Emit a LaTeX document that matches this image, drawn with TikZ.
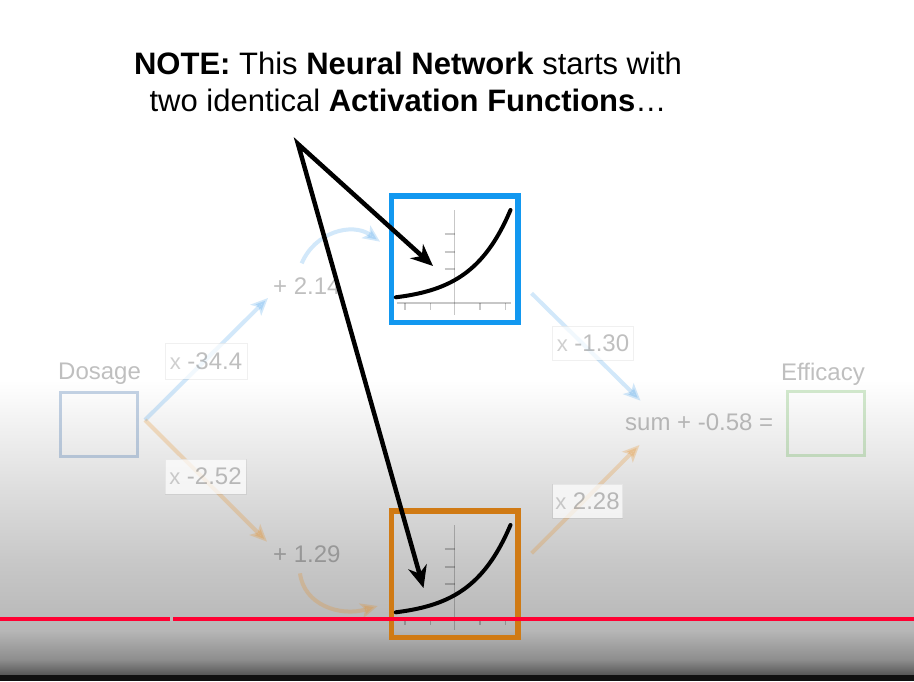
\documentclass[tikz,border=0pt]{standalone}
\usepackage{fontspec}
\setmainfont{Liberation Sans}
\usetikzlibrary{arrows.meta}
\definecolor{hblue}{RGB}{18,152,240}
\definecolor{horange}{RGB}{208,122,20}
\definecolor{fblue}{RGB}{30,140,230}
\definecolor{forange}{RGB}{230,140,30}
\definecolor{dosblue}{RGB}{60,110,170}
\definecolor{effgreen}{RGB}{80,170,60}
\definecolor{bgA}{RGB}{200,200,200}
\definecolor{bgB}{RGB}{183,183,183}
\definecolor{bgC}{RGB}{140,140,140}
\definecolor{bgD}{RGB}{85,85,85}
\definecolor{barblack}{RGB}{17,17,17}
\definecolor{ytred}{RGB}{255,0,50}
\newcommand{\smx}{{\fontsize{22}{24}\selectfont\color{black!75}x}}
\tikzset{
  notefont/.style={font=\fontsize{31}{37}\selectfont, inner sep=0},
  fadetext/.style={text=black, text opacity=0.25, font=\fontsize{24}{28}\selectfont, inner sep=0},
  wlabel/.style={draw=black, draw opacity=0.06, fill=white, fill opacity=0.7, text=black, text opacity=0.25,
    font=\fontsize{24}{28}\selectfont, inner sep=1, line width=1},
  fbluearrow/.style={draw=fblue, opacity=0.2, line width=4, -{Stealth[length=17,width=15,inset=4]}},
  forangearrow/.style={draw=forange, opacity=0.25, line width=4, -{Stealth[length=17,width=15,inset=4]}},
  inbox/.style={draw=black, opacity=0.3, line width=3},
  actbox/.style={line width=5.5, minimum size=126.5, inner sep=0},
  axisline/.style={draw=black, opacity=0.22, line width=1.6},
  actcurve/.style={draw=black, line width=4, line cap=round},
  notearrow/.style={draw=black, line width=4.5, line join=miter, {Stealth[length=22,width=19,inset=7]}-{Stealth[length=22,width=19,inset=7]}},
  actfun/.pic={
    \draw[axisline] (0,-49) -- (0,56);
    \draw[axisline] (-58,44) -- (56,44);
    \foreach \ty in {-25,-7,10} \draw[axisline] (-10,\ty) -- (0,\ty);
    \foreach \tx in {-49.5,-24,25.5,51} \draw[axisline] (\tx,44) -- (\tx,51);
    \draw[actcurve] plot[domain=0:114.7, samples=50, smooth] ({-58.7+\x},{38.3-4.87*(exp(\x/39)-1)});
  }
}
\begin{document}
\begin{tikzpicture}[x=1pt,y=-1pt]
\useasboundingbox (0,0) rectangle (914,681);
% background (video gradient)
\fill[white] (0,0) rectangle (914,381);
\shade[top color=white,bottom color=bgA] (0,380) rectangle (914,560.5);
\shade[top color=bgA,bottom color=bgB] (0,560) rectangle (914,630.5);
\shade[top color=bgB,bottom color=bgC] (0,630) rectangle (914,660.5);
\shade[top color=bgC,bottom color=bgD] (0,660) rectangle (914,675.5);
\fill[barblack] (0,675) rectangle (914,681);

% faded network
\node[inbox, draw=dosblue, minimum width=77, minimum height=64, inner sep=0] (dos) at (99,424.5) {};
\node[inbox, draw=effgreen, opacity=0.25, minimum width=77, minimum height=64, inner sep=0] (eff) at (826,423.5) {};
\node[fadetext, anchor=base west] (dostxt) at (58,379) {Dosage};
\node[fadetext, anchor=base west] (efftxt) at (781,380) {Efficacy};
\node[fadetext, anchor=base west] (sumtxt) at (625,430) {sum + -0.58 =};
\node[fadetext, anchor=base west] (b1txt) at (273,294) {+ 2.14};
\node[fadetext, anchor=base west] (b2txt) at (273,562) {+ 1.29};

\coordinate (fork) at (145,420);
\coordinate (b1end) at (268,298);
\coordinate (c1start) at (301.7,263.3);
\coordinate (c1end) at (380,241.7);
\coordinate (o1start) at (531.6,293.3);
\coordinate (o1end) at (640.5,400.7);
\coordinate (b2end) at (267,541.7);
\coordinate (c2start) at (300,573.3);
\coordinate (c2end) at (377.7,606);
\coordinate (o2start) at (531.6,553.3);
\coordinate (o2end) at (639.5,445);

\draw[fbluearrow] (fork) -- (b1end);
\draw[fbluearrow] (c1start) .. controls (315,232) and (352,222) .. (c1end);
\draw[fbluearrow] (o1start) -- (o1end);
\draw[forangearrow] (fork) -- (b2end);
\draw[forangearrow] (c2start) .. controls (304,605) and (340,617) .. (c2end);
\draw[forangearrow] (o2start) -- (o2end);

\node[wlabel, minimum width=82, minimum height=36] (w1) at (206,361) {\smx{} -34.4};
\node[wlabel, minimum width=81, minimum height=34] (w3) at (593,343) {\smx{} -1.30};
\node[wlabel, minimum width=81, minimum height=35] (w2) at (205.5,476.5) {\smx{} -2.52};
\node[wlabel, minimum width=70, minimum height=34] (w4) at (587.5,501) {\smx{} 2.28};

% activation function boxes
\node[actbox, draw=hblue] (h1) at (454.5,259) {};
\node[actbox, draw=horange] (h2) at (454.5,574) {};
\pic at (h1.center) {actfun};
\pic at (h2.center) {actfun};

% note text
\node[notefont, anchor=base] (note1) at (408,74) {\textbf{NOTE:} This \textbf{Neural Network} starts with};
\node[notefont, anchor=base] (note2) at (408,111) {two identical \textbf{Activation Functions}\ldots};

\coordinate (apex) at (298,144);
\coordinate (tip1) at (433,266);
\coordinate (tip2) at (423.5,588);
\draw[notearrow] (tip1) -- (apex) -- (tip2);

% video progress bar
\draw[ytred, line width=3.5] (0,619) -- (170,619);
\draw[ytred, line width=3.5] (173,619) -- (914,619);
\end{tikzpicture}
\end{document}
